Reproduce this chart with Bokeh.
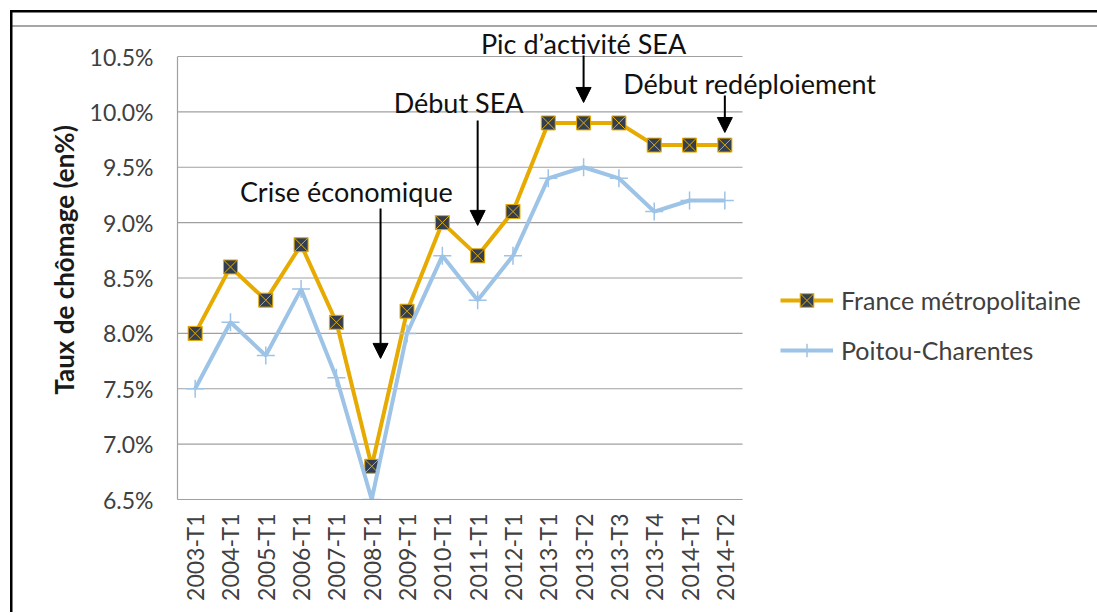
from bokeh.plotting import figure
from bokeh.models import (FixedTicker, PrintfTickFormatter, Range1d, Legend, LegendItem,
                          Label, Arrow, NormalHead)
from bokeh.embed import file_html
from bokeh.resources import INLINE
from math import pi

# ---------------- data ----------------
periods = ["2003-T1", "2004-T1", "2005-T1", "2006-T1", "2007-T1", "2008-T1",
           "2009-T1", "2010-T1", "2011-T1", "2012-T1", "2013-T1", "2013-T2",
           "2013-T3", "2013-T4", "2014-T1", "2014-T2"]
france = [8.0, 8.6, 8.3, 8.8, 8.1, 6.8, 8.2, 9.0, 8.7, 9.1, 9.9, 9.9, 9.9, 9.7, 9.7, 9.7]
poitou = [7.5, 8.1, 7.8, 8.4, 7.6, 6.5, 8.0, 8.7, 8.3, 8.7, 9.4, 9.5, 9.4, 9.1, 9.2, 9.2]
y_ticks = [6.5, 7.0, 7.5, 8.0, 8.5, 9.0, 9.5, 10.0, 10.5]
series_names = ["France métropolitaine", "Poitou-Charentes"]

# annotations (text + arrows), in axis units
ann_text = ["Crise économique", "Début SEA", "Pic d\u2019activité SEA", "Début redéploiement"]
ann_text_x = [4.28, 7.46, 11.0, 15.7]
ann_text_y = [9.28, 10.085, 10.617, 10.256]
arrow_x = [5.25, 8.0, 11.0, 15.0]
arrow_y_start = [9.128, 9.922, 10.509, 10.148]
arrow_y_end = [7.774, 8.975, 10.085, 9.814]

x = list(range(len(periods)))
y_lo, y_hi = y_ticks[0], y_ticks[-1]
x_lo, x_hi = -0.5, len(periods) - 0.5

# ---------------- layout (pixels) ----------------
W, H = 1097, 612
PLOT_L, PLOT_R, PLOT_T, PLOT_B = 177, 742, 56, 499   # category/value area
FRAME_T = 20                                          # frame extends up for labels
px_x = (PLOT_R - PLOT_L) / (x_hi - x_lo)
px_y = (PLOT_B - PLOT_T) / (y_hi - y_lo)

GOLD = "#E6AA00"
NAVY = "#333F50"
BLUE = "#9DC3E6"
GRID = "#A0A0A0"
FONT = "Lato"

p = figure(width=W, height=H, output_backend="svg", toolbar_location=None,
           x_range=Range1d(x_lo, x_lo + (W - PLOT_L) / px_x),
           y_range=Range1d(y_lo, y_hi + (PLOT_T - FRAME_T) / px_y),
           min_border_left=PLOT_L, min_border_right=0, min_border_top=FRAME_T,
           min_border_bottom=H - PLOT_B)
p.outline_line_color = None
p.background_fill_alpha = 0
p.border_fill_alpha = 0
p.styles = {
    "background-color": "white",
    "background-image": "linear-gradient(black, black), linear-gradient(black, black), "
                        "linear-gradient(#A6A6A6, #A6A6A6)",
    "background-size": "2.5px 100%, 100% 2.5px, 100% 2px",
    "background-position": "10px 10px, 10px 10px, 12px 25px",
    "background-repeat": "no-repeat",
}

# grid (limited to the category area)
p.xgrid.visible = False
p.ygrid.visible = False
p.segment(x0=[x_lo] * len(y_ticks), y0=y_ticks, x1=[x_hi] * len(y_ticks), y1=y_ticks,
          line_color=GRID, line_width=1.2)

# y axis
p.yaxis.bounds = (y_lo, y_hi)
p.yaxis.ticker = FixedTicker(ticks=y_ticks)
p.yaxis.formatter = PrintfTickFormatter(format="%.1f%%")
p.yaxis.axis_line_color = GRID
p.yaxis.axis_line_width = 1.2
p.yaxis.major_tick_line_color = None
p.yaxis.minor_tick_line_color = None
p.yaxis.major_tick_out = 0
p.yaxis.major_tick_in = 0
p.yaxis.major_label_standoff = 24
p.yaxis.major_label_text_font = FONT
p.yaxis.major_label_text_font_size = "23px"
p.yaxis.major_label_text_color = "#404040"
p.yaxis.axis_label = "Taux de chômage (en%)"
p.yaxis.axis_label_text_font = FONT
p.yaxis.axis_label_text_font_style = "bold"
p.yaxis.axis_label_text_font_size = "26px"
p.yaxis.axis_label_text_color = "#1a1a1a"
p.yaxis.axis_label_standoff = 7

# x axis
p.xaxis.bounds = (x_lo, x_hi)
p.xaxis.ticker = FixedTicker(ticks=x)
p.xaxis.major_label_overrides = {i: lab for i, lab in zip(x, periods)}
p.xaxis.major_label_orientation = pi / 2
p.xaxis.axis_line_color = GRID
p.xaxis.axis_line_width = 1.2
p.xaxis.major_tick_line_color = None
p.xaxis.minor_tick_line_color = None
p.xaxis.major_tick_out = 0
p.xaxis.major_tick_in = 0
p.xaxis.major_label_standoff = 14
p.xaxis.major_label_text_font = FONT
p.xaxis.major_label_text_font_size = "23px"
p.xaxis.major_label_text_color = "#404040"

# series
r_fr_line = p.line(x, france, line_color=GOLD, line_width=4)
r_fr_pts = p.scatter(x, france, marker="square_x", size=14, fill_color=NAVY,
                     line_color=GOLD, line_width=1)
r_pc_line = p.line(x, poitou, line_color=BLUE, line_width=4)
r_pc_pts = p.scatter(x, poitou, marker="cross", size=18, line_color=BLUE, line_width=1.5)

legend = Legend(items=[LegendItem(label=series_names[0], renderers=[r_fr_line, r_fr_pts]),
                       LegendItem(label=series_names[1], renderers=[r_pc_line, r_pc_pts])],
                location=(780 - PLOT_L, PLOT_B - 367), padding=0, margin=0, spacing=16,
                glyph_width=53, glyph_height=34, label_height=34, label_standoff=8,
                label_text_font=FONT, label_text_font_size="25px",
                label_text_color="#404040", border_line_alpha=0,
                background_fill_alpha=0)
p.add_layout(legend, "center")

# annotations
for t, tx, ty in zip(ann_text, ann_text_x, ann_text_y):
    p.add_layout(Label(x=tx, y=ty, text=t, text_align="center", text_baseline="middle",
                       text_font=FONT, text_font_size="27px", text_color="#111111"))
for ax, ys, ye in zip(arrow_x, arrow_y_start, arrow_y_end):
    p.add_layout(Arrow(x_start=ax, y_start=ys, x_end=ax, y_end=ye, line_width=2,
                       line_color="black",
                       end=NormalHead(size=15, fill_color="black", line_color="black",
                                      line_width=1)))

open("out.html", "w").write(file_html(p, INLINE))
